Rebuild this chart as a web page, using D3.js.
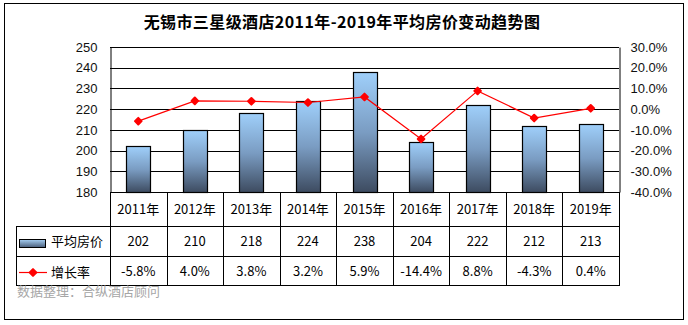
<!DOCTYPE html>
<html><head><meta charset="utf-8">
<script src="https://cdn.jsdelivr.net/npm/d3@7/dist/d3.min.js"></script>
<style>body{margin:0;background:#fff}svg{display:block}</style>
</head><body>
<svg id="c" width="688" height="325"></svg>
<script>
const categories = ["2011年","2012年","2013年","2014年","2015年","2016年","2017年","2018年","2019年"];
const prices = [202,210,218,224,238,204,222,212,213];
const growth = [-5.8,4.0,3.8,3.2,5.9,-14.4,8.8,-4.3,0.4];
const leftTicks = [180,190,200,210,220,230,240,250];
const rightTicks = [-40,-30,-20,-10,0,10,20,30];
const seriesNames = ["平均房价","增长率"];
const title = "无锡市三星级酒店2011年-2019年平均房价变动趋势图";
const source = "数据整理：合纵酒店顾问";

const svg = d3.select("#c");
const plot = {l:110,r:619,t:47,b:192};
const cjk = "'Noto Sans CJK SC','Noto Sans',sans-serif";
const arial = "'Liberation Sans',Arial,sans-serif";

const defs = svg.append("defs");
const g1 = defs.append("linearGradient").attr("id","bg").attr("x1",0).attr("y1",0).attr("x2",0).attr("y2",1);
g1.append("stop").attr("offset","0%").attr("stop-color","#9fcffa");
g1.append("stop").attr("offset","50%").attr("stop-color","#7a9cc2");
g1.append("stop").attr("offset","100%").attr("stop-color","#3d4b60");

svg.append("rect").attr("x",4.5).attr("y",3.5).attr("width",679).attr("height",316)
  .attr("fill","#fff").attr("stroke","#000").attr("stroke-width",1);

svg.append("text").attr("x",342).attr("y",28).attr("text-anchor","middle")
  .attr("font-family","'Noto Sans CJK SC',sans-serif").attr("font-weight","bold").attr("font-size",16)
  .attr("letter-spacing",0.4)
  .text(title);

const x = d3.scaleBand().domain(categories).range([plot.l,plot.r]);
const yL = d3.scaleLinear().domain([180,250]).range([plot.b,plot.t]);
const yR = d3.scaleLinear().domain([-40,30]).range([plot.b,plot.t]);

// gridlines
svg.append("g").selectAll("line").data(leftTicks).join("line")
  .attr("x1",plot.l).attr("x2",plot.r)
  .attr("y1",d=>Math.round(yL(d))+0.5).attr("y2",d=>Math.round(yL(d))+0.5)
  .attr("stroke","#000").attr("stroke-width",1);

// axes
const axL = svg.append("g").attr("transform",`translate(${plot.l+0.5},0)`)
  .call(d3.axisLeft(yL).tickValues(leftTicks).tickSize(0).tickPadding(13));
axL.select(".domain").attr("stroke","#000");
axL.selectAll("text").attr("font-family",arial).attr("font-size",13).attr("fill","#111");

const axR = svg.append("g").attr("transform",`translate(${plot.r+0.5},0)`)
  .call(d3.axisRight(yR).tickValues(rightTicks).tickSize(0).tickPadding(11).tickFormat(d=>d.toFixed(1)+"%"));
axR.select(".domain").attr("stroke","#000");
axR.selectAll("text").attr("font-family",arial).attr("font-size",13).attr("fill","#111");

// bars
const bw = 24;
svg.append("g").selectAll("rect").data(prices).join("rect")
  .attr("x",(d,i)=>Math.round(x(categories[i])+x.bandwidth()/2-bw/2)+0.5)
  .attr("y",d=>Math.round(yL(d))+0.5)
  .attr("width",bw).attr("height",d=>Math.round(yL(180))-Math.round(yL(d)))
  .attr("fill","url(#bg)").attr("stroke","#000").attr("stroke-width",1.2);

// line
const line = d3.line().x((d,i)=>x(categories[i])+x.bandwidth()/2).y(d=>yR(d));
svg.append("path").datum(growth).attr("d",line).attr("fill","none").attr("stroke","#ff0000").attr("stroke-width",1.2);
const marker = d3.symbol().type(d3.symbolSquare).size(22);
svg.append("g").selectAll("path").data(growth).join("path")
  .attr("transform",(d,i)=>`translate(${x(categories[i])+x.bandwidth()/2},${yR(d)}) rotate(45)`)
  .attr("d",marker).attr("fill","#ff0000").attr("stroke","#ff0000").attr("stroke-width",2).attr("stroke-linejoin","round");

// data table
const rowY = [192,226,256,285];
const tl = 16;
const tg = svg.append("g").attr("stroke","#000").attr("stroke-width",1).attr("fill","none");
tg.append("line").attr("x1",plot.l).attr("x2",plot.r).attr("y1",rowY[0]+0.5).attr("y2",rowY[0]+0.5);
[1,2,3].forEach(k=>tg.append("line").attr("x1",tl).attr("x2",plot.r+1).attr("y1",rowY[k]+0.5).attr("y2",rowY[k]+0.5));
tg.append("line").attr("x1",tl+0.5).attr("x2",tl+0.5).attr("y1",rowY[1]).attr("y2",rowY[3]+1);
const bounds = categories.map(c=>x(c)).concat([plot.r]);
bounds.forEach(b=>tg.append("line").attr("x1",Math.round(b)+0.5).attr("x2",Math.round(b)+0.5).attr("y1",rowY[0]).attr("y2",rowY[3]+1));

const tt = svg.append("g").attr("font-family",cjk).attr("font-size",13).attr("fill","#000").attr("text-anchor","middle");
categories.forEach((c,i)=>{
  const cx = x(c)+x.bandwidth()/2;
  tt.append("text").attr("x",cx).attr("y",(rowY[0]+rowY[1])/2+5).text(c);
  tt.append("text").attr("x",cx).attr("y",(rowY[1]+rowY[2])/2+5).text(prices[i]);
  tt.append("text").attr("x",cx).attr("y",(rowY[2]+rowY[3])/2+5).text(growth[i].toFixed(1)+"%");
});

// legend keys
const lg = defs.append("linearGradient").attr("id","lg").attr("x1",0).attr("y1",0).attr("x2",0).attr("y2",1);
lg.append("stop").attr("offset","0%").attr("stop-color","#a6cff3");
lg.append("stop").attr("offset","100%").attr("stop-color","#4a5e7a");
svg.append("rect").attr("x",19.5).attr("y",239.5).attr("width",26).attr("height",8)
  .attr("fill","url(#lg)").attr("stroke","#000").attr("stroke-width",1);
svg.append("text").attr("x",51).attr("y",246).attr("font-family",cjk).attr("font-size",13).text(seriesNames[0]);
svg.append("line").attr("x1",19).attr("x2",47).attr("y1",272.5).attr("y2",272.5).attr("stroke","#ff0000").attr("stroke-width",1.2);
svg.append("path").attr("transform","translate(33,272.5) rotate(45)").attr("d",marker).attr("fill","#ff0000").attr("stroke","#ff0000").attr("stroke-width",2).attr("stroke-linejoin","round");
svg.append("text").attr("x",51).attr("y",277).attr("font-family",cjk).attr("font-size",13).text(seriesNames[1]);

// source
svg.append("text").attr("x",17).attr("y",296).attr("font-family",cjk).attr("font-size",13).attr("fill","#a6a6a6").text(source);
</script>
</body></html>
